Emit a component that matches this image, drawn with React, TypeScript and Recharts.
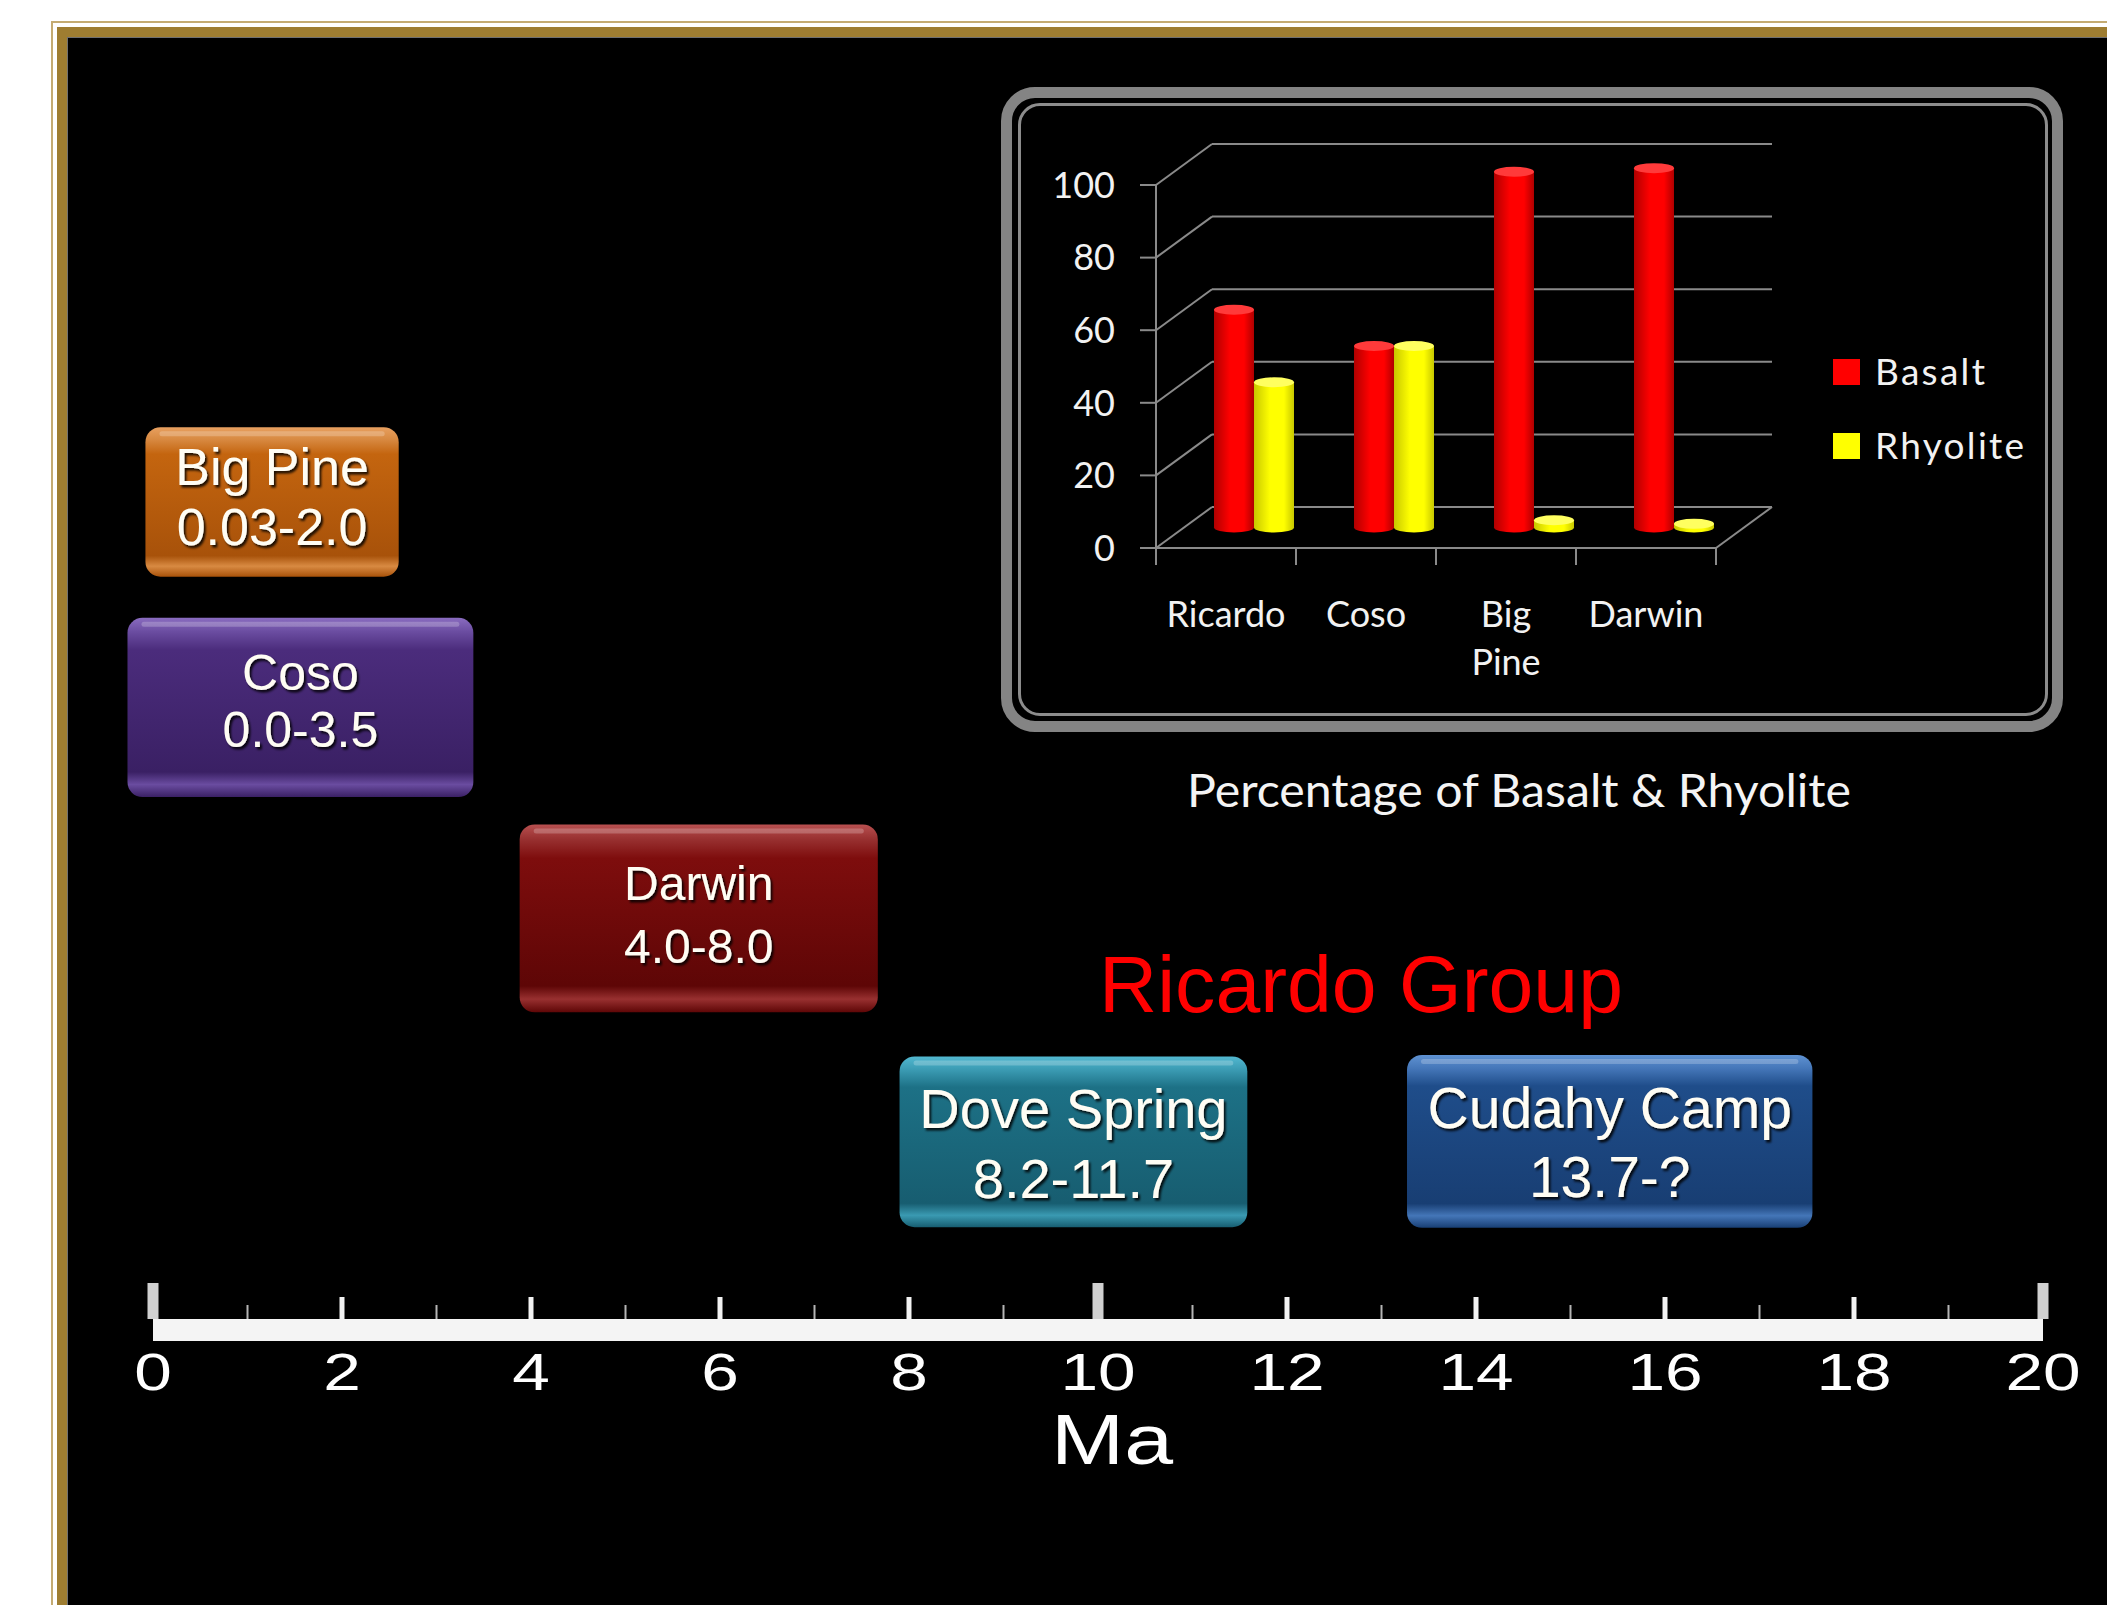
import React from 'react';
import {
    BarChart,
    Bar,
    ComposedChart,
    Scatter,
    XAxis,
    YAxis,
    CartesianGrid,
    ReferenceArea
} from 'recharts';

// ---- timeline data (Ma) ----
const unitNames = ['Big Pine', 'Coso', 'Darwin', 'Dove Spring', 'Cudahy Camp'];
const ageLabels = ['0.03-2.0', '0.0-3.5', '4.0-8.0', '8.2-11.7', '13.7-?'];
const boxStartMa = [-0.08, -0.27, 3.88, 7.9, 13.27];
const boxEndMa = [2.6, 3.39, 7.67, 11.58, 17.56];
const unitLane = [0, 1, 2, 3, 3];
const maTicks = [0, 1, 2, 3, 4, 5, 6, 7, 8, 9, 10, 11, 12, 13, 14, 15, 16, 17, 18, 19, 20];

// ---- inset chart data (%) ----
const sites = ['Ricardo', 'Coso', 'Big Pine', 'Darwin'];
const basaltPct = [60, 50, 98, 99];
const rhyolitePct = [40, 50, 2, 1];
const pctTicks = [0, 20, 40, 60, 80, 100];

const timelineData = unitNames.map((name, i) => ({
    name,
    from: boxStartMa[i],
    to: boxEndMa[i],
    lane: unitLane[i]
}));
const insetData = sites.map((site, i) => ({ site, basalt: basaltPct[i], rhyolite: rhyolitePct[i] }));

const W = 2107;
const H = 1605;
const GOLD = '#9e7d31';
const GRID = '#8a8a8a';
const LABEL = '#f2f2f2';
const SANS = "'Liberation Sans', Arial, sans-serif";
const LATO = "Lato, 'Open Sans', sans-serif";

// 3d offset of the back wall in the inset chart
const DX = 56;
const DY = -41;

const series = [
    { key: 'basalt', name: 'Basalt', color: '#ff0000', edge: '#b00000', cap: '#ff3a3a' },
    { key: 'rhyolite', name: 'Rhyolite', color: '#ffff00', edge: '#c8c800', cap: '#ffff60' }
];

// box look: colours, text size / first baseline / leading, height in lanes, nudge in px
const boxStyle = [
    { top: '#e8a060', mid: '#c4650f', low: '#a8520a', rim: '#d88a42', font: 52, base: -17, lead: 60, h: 0.7, dy: 4.5 },
    { top: '#8a6cc0', mid: '#4b2c7c', low: '#3a2064', rim: '#6a4ca0', font: 50, base: -17.5, lead: 57, h: 0.84, dy: -3.5 },
    { top: '#b85050', mid: '#7e0d0d', low: '#5e0606', rim: '#983030', font: 48, base: -18.5, lead: 63, h: 0.88, dy: -6 },
    { top: '#52b8d0', mid: '#1d7186', low: '#175d70', rim: '#3a9ab2', font: 56, base: -14, lead: 70, h: 0.8, dy: 4 },
    { top: '#5f92d2', mid: '#1f4d8a', low: '#183e73', rim: '#4476b8', font: 57, base: -13.5, lead: 69, h: 0.81, dy: 3.5 }
];

const GlossyBox = (props: any) => {
    const { x, width, height, idx } = props;
    if (x == null || width == null) return null;
    const s = boxStyle[idx];
    const y = props.y + s.dy;
    const cx = x + width / 2;
    const cy = y + height / 2;
    const line1 = cy + s.base;
    const gid = `box-grad-${idx}`;
    const fid = `box-shadow-${idx}`;
    return (
        <g>
            <defs>
                <linearGradient id={gid} x1='0' y1='0' x2='0' y2='1'>
                    <stop offset='0' stopColor={s.top} />
                    <stop offset='0.08' stopColor={s.rim} />
                    <stop offset='0.18' stopColor={s.mid} />
                    <stop offset='0.86' stopColor={s.low} />
                    <stop offset='0.93' stopColor={s.rim} />
                    <stop offset='1' stopColor={s.low} />
                </linearGradient>
                <filter id={fid} x='-10%' y='-30%' width='120%' height='160%'>
                    <feDropShadow dx='2' dy='2.5' stdDeviation='1' floodColor='#000' floodOpacity='0.85' />
                </filter>
            </defs>
            <rect x={x} y={y} width={width} height={height} rx={15} fill={`url(#${gid})`} />
            <rect x={x + 14} y={y + 4} width={width - 28} height={5} rx={2.5} fill='#ffffff' opacity={0.22} />
            <text
                x={cx}
                textAnchor='middle'
                fontFamily={SANS}
                fontSize={s.font}
                fill='#fffdf4'
                filter={`url(#${fid})`}
            >
                <tspan x={cx} y={line1}>{unitNames[idx]}</tspan>
                <tspan x={cx} y={line1 + s.lead}>{ageLabels[idx]}</tspan>
            </text>
        </g>
    );
};

const MaTick = (props: any) => {
    const { x, y, payload } = props;
    const v = Number(payload.value);
    let mark;
    if (v % 10 === 0) mark = <rect x={x - 5.5} y={y - 47} width={11} height={36} fill='#d0d0d0' />;
    else if (v % 2 === 0) mark = <rect x={x - 2.5} y={y - 33} width={5} height={22} fill='#f2f2f2' />;
    else mark = <rect x={x - 1} y={y - 25} width={2} height={14} fill='#b4b4b4' />;
    return (
        <g>
            {mark}
            {v % 2 === 0 && (
                <text
                    transform={`translate(${x},${y + 60}) scale(1.3,1)`}
                    textAnchor='middle'
                    fontFamily={SANS}
                    fontSize={52}
                    fill='#ffffff'
                >
                    {v}
                </text>
            )}
        </g>
    );
};

const BAND = 140;

const SiteTick = (props: any) => {
    const { x, y, payload, index } = props;
    const words = String(payload.value).split(' ');
    return (
        <g>
            <line x1={x - BAND / 2} y1={y} x2={x - BAND / 2} y2={y + 17} stroke={GRID} strokeWidth={2} />
            {index === sites.length - 1 && (
                <line x1={x + BAND / 2} y1={y} x2={x + BAND / 2} y2={y + 17} stroke={GRID} strokeWidth={2} />
            )}
            <text textAnchor='middle' fontFamily={LATO} fontSize={36} fill={LABEL}>
                {words.map((w, i) => (
                    <tspan key={w} x={x} y={y + 79 + i * 48}>{w}</tspan>
                ))}
            </text>
        </g>
    );
};

const grid3D = (p: any) => {
    const { x1, y1, x2, index } = p;
    const isFloor = p.y != null && p.height != null ? Math.abs(y1 - (p.y + p.height)) < 1 : index === 0;
    return (
        <g key={`grid3d-${index}`}>
            <line x1={x1} y1={y1} x2={x1 + DX} y2={y1 + DY} stroke={GRID} strokeWidth={2} />
            <line x1={x1 + DX} y1={y1 + DY} x2={x2 + DX} y2={y1 + DY} stroke={GRID} strokeWidth={2} />
            {isFloor && <line x1={x2} y1={y1} x2={x2 + DX} y2={y1 + DY} stroke={GRID} strokeWidth={2} />}
        </g>
    );
};

const Cylinder = (props: any) => {
    const { x, y, width, height, index, seriesIdx } = props;
    if (x == null || height == null) return null;
    const s = series[seriesIdx];
    const rx = width / 2;
    const ry = 5;
    const cx = x + DX / 2 + rx;
    const top = y + DY / 2;
    const bot = y + height + DY / 2;
    const id = `cyl-${s.key}-${index}`;
    return (
        <g>
            <defs>
                <linearGradient id={id} x1='0' y1='0' x2='1' y2='0'>
                    <stop offset='0' stopColor={s.edge} />
                    <stop offset='0.4' stopColor={s.color} />
                    <stop offset='0.75' stopColor={s.color} />
                    <stop offset='1' stopColor={s.edge} />
                </linearGradient>
            </defs>
            <ellipse cx={cx} cy={bot} rx={rx} ry={ry} fill={`url(#${id})`} />
            <rect x={cx - rx} y={top} width={width} height={Math.max(bot - top, 0)} fill={`url(#${id})`} />
            <ellipse cx={cx} cy={top} rx={rx} ry={ry} fill={s.cap} />
        </g>
    );
};

const Frame = () => (
    <>
        <div style={{ position: 'absolute', left: 51, top: 21, right: 0, bottom: 0, background: '#c4ab72' }} />
        <div style={{ position: 'absolute', left: 52.5, top: 22.5, right: 0, bottom: 0, background: '#ffffff' }} />
        <div style={{ position: 'absolute', left: 57, top: 27, right: 0, bottom: 0, background: GOLD }} />
        <div style={{ position: 'absolute', left: 67, top: 37, right: 0, bottom: 0, background: '#707070' }} />
        <div style={{ position: 'absolute', left: 68, top: 38, right: 0, bottom: 0, background: '#000000' }} />
    </>
);

const App = () => {
    return (
        <div style={{ position: 'absolute', left: 0, top: 0, width: W, height: H, background: '#fff', overflow: 'hidden' }}>
            <Frame />

            <div style={{ position: 'absolute', left: 0, top: 0 }}>
                <ComposedChart
                    width={W}
                    height={H}
                    data={timelineData}
                    margin={{ top: 0, right: 64, bottom: 175, left: 153 }}
                >
                    <XAxis
                        type='number'
                        dataKey='from'
                        domain={[0, 20]}
                        allowDataOverflow
                        ticks={maTicks}
                        interval={0}
                        height={100}
                        tickLine={false}
                        tickSize={0}
                        tickMargin={0}
                        axisLine={{ stroke: '#f4f4f4', strokeWidth: 22 }}
                        tick={MaTick}
                    />
                    <YAxis
                        type='number'
                        dataKey='lane'
                        hide
                        width={0}
                        domain={[-2.33, 3.9]}
                        reversed
                        allowDataOverflow
                    />
                    <Scatter dataKey='lane' fill='none' isAnimationActive={false} shape={() => <g />} />
                    {timelineData.map((d, i) => (
                        <ReferenceArea
                            key={d.name}
                            x1={d.from}
                            x2={d.to}
                            y1={d.lane - boxStyle[i].h / 2}
                            y2={d.lane + boxStyle[i].h / 2}
                            ifOverflow='visible'
                            shape={(p: any) => <GlossyBox {...p} idx={i} />}
                        />
                    ))}
                </ComposedChart>
            </div>

            {/* inset frame */}
            <div style={{
                position: 'absolute', left: 1001, top: 87, width: 1062, height: 645, boxSizing: 'border-box',
                border: '11px solid #848484', borderRadius: 34, background: '#000'
            }} />
            <div style={{
                position: 'absolute', left: 1018, top: 103, width: 1030, height: 613, boxSizing: 'border-box',
                border: '3px solid #8c8c8c', borderRadius: 22
            }} />

            <div style={{ position: 'absolute', left: 1020, top: 110 }}>
                <BarChart
                    width={1020}
                    height={600}
                    data={insetData}
                    margin={{ top: 75, right: 324, bottom: 52, left: 0 }}
                    barGap={0}
                >
                    <CartesianGrid vertical={false} horizontal={grid3D} />
                    <XAxis
                        dataKey='site'
                        interval={0}
                        height={110}
                        tickLine={false}
                        tickSize={0}
                        tickMargin={0}
                        axisLine={{ stroke: GRID, strokeWidth: 2 }}
                        tick={SiteTick}
                    />
                    <YAxis
                        type='number'
                        domain={[0, 100]}
                        ticks={pctTicks}
                        interval={0}
                        width={136}
                        tickSize={16}
                        tickMargin={25}
                        axisLine={{ stroke: GRID, strokeWidth: 2 }}
                        tickLine={{ stroke: GRID, strokeWidth: 2 }}
                        tick={{ fill: LABEL, fontSize: 36, fontFamily: LATO }}
                    />
                    {series.map((s, si) => (
                        <Bar
                            key={s.key}
                            dataKey={s.key}
                            name={s.name}
                            fill={s.color}
                            barSize={40}
                            isAnimationActive={false}
                            shape={(p: any) => <Cylinder {...p} seriesIdx={si} />}
                        />
                    ))}
                </BarChart>
            </div>

            <svg width={W} height={H} style={{ position: 'absolute', left: 0, top: 0, pointerEvents: 'none' }}>
                {series.map((s, i) => (
                    <g key={s.key}>
                        <rect x={1833} y={359 + i * 74} width={27} height={26} fill={s.color} />
                        <text
                            x={1875}
                            y={385 + i * 74}
                            fontFamily={LATO}
                            fontSize={37}
                            letterSpacing={2.3}
                            fill={LABEL}
                        >
                            {s.name}
                        </text>
                    </g>
                ))}
                <text
                    x={1187}
                    y={807}
                    fontFamily={LATO}
                    fontSize={47}
                    fill='#f4f4f4'
                    textLength={664}
                    lengthAdjust='spacingAndGlyphs'
                >
                    Percentage of Basalt &amp; Rhyolite
                </text>
                <text
                    x={1099}
                    y={1012}
                    fontFamily={SANS}
                    fontSize={79}
                    fill='#ff0000'
                    textLength={524}
                    lengthAdjust='spacingAndGlyphs'
                >
                    Ricardo Group
                </text>
                <text
                    x={1112}
                    y={1464}
                    textAnchor='middle'
                    fontFamily={SANS}
                    fontSize={70}
                    fill='#ffffff'
                    textLength={122}
                    lengthAdjust='spacingAndGlyphs'
                >
                    Ma
                </text>
            </svg>
        </div>
    );
};

export default App;
